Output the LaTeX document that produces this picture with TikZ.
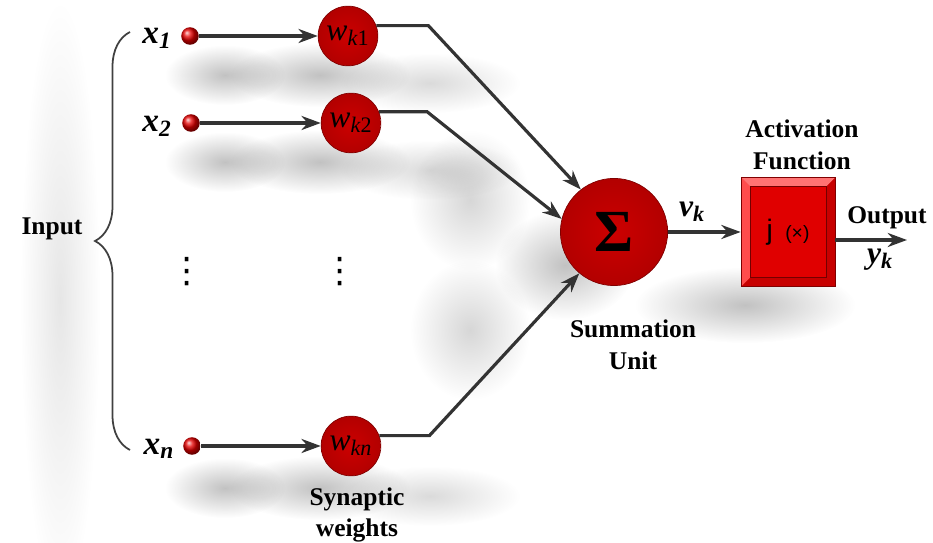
\documentclass[tikz,border=0pt]{standalone}
\usepackage{fontspec}
\setmainfont{Liberation Serif}
\newfontfamily\phifont{Liberation Sans}
\newfontfamily\symfont{DejaVu Sans}
\usetikzlibrary{arrows.meta, decorations.pathreplacing, fadings, calc}

\tikzfading[name=softblob, inner color=transparent!20, outer color=transparent!100]

\begin{document}
\begin{tikzpicture}[x=0.02cm, y=-0.02cm,
        every node/.style={inner sep=0pt},
        lbl/.style={font=\bfseries\fontsize{14.5}{18}\selectfont, align=center},
        var/.style={font=\bfseries\itshape\fontsize{19}{20}\selectfont},
        outvar/.style={font=\bfseries\itshape\fontsize{18}{18}\selectfont},
        dots/.style={font=\symfont\fontsize{20}{20}\selectfont},
        inball/.style={circle, minimum size=10pt, shading=ball, ball color=red!90!black},
        weight/.style={circle, minimum size=34pt, inner color=red!80!black, outer color=red!70!black,
            draw=red!50!black, thin, font=\itshape\fontsize{18}{18}\selectfont},
        sumnode/.style={circle, minimum size=61pt, inner color=red!80!black, outer color=red!70!black,
            draw=red!50!black, thin, font=\bfseries\fontsize{34}{34}\selectfont},
        actbox/.style={rectangle, minimum width=1.88cm, minimum height=2.18cm, fill=red!78!black,
            draw=red!50!black, thin,
            path picture={
                \fill[red!55] (path picture bounding box.north west) -- (path picture bounding box.north east)
                    -- ($(path picture bounding box.north east)+(-9,9)$) -- ($(path picture bounding box.north west)+(9,9)$) -- cycle;
                \fill[red!70] (path picture bounding box.north west) -- ($(path picture bounding box.north west)+(9,9)$)
                    -- ($(path picture bounding box.south west)+(9,-9)$) -- (path picture bounding box.south west) -- cycle;
                \fill[red!88!black] ($(path picture bounding box.south west)+(9,-9)$) rectangle ($(path picture bounding box.north east)+(-9,9)$);
                \draw[red!45!black, thin] ($(path picture bounding box.south west)+(9,-9)$) rectangle ($(path picture bounding box.north east)+(-9,9)$);
            }},
        link/.style={-{Stealth[length=11pt, width=8pt]}, line width=1.8pt, draw=black!80},
        haze/.style={black, opacity=.3, path fading=softblob}]
\useasboundingbox (0,0) rectangle (933,543);

% soft shadows under the rows and the units
\foreach \y in {75,162,488} {
    \fill[haze] (225,\y) ellipse (60 and 30);
    \fill[haze] (320,\y) ellipse (90 and 32);
    \fill[haze, opacity=.18] (430,\y+8) ellipse (90 and 30);
}
\fill[haze, opacity=.2] (470,200) ellipse (60 and 70);
\fill[haze, opacity=.2] (470,330) ellipse (60 and 70);
\fill[haze] (565,265) ellipse (70 and 55);
\fill[haze] (745,305) ellipse (110 and 38);
\fill[haze, opacity=.12] (60,300) ellipse (40 and 300);

% input side
\node[lbl] (input) at (52,229) {Input};
\coordinate (btop) at (130,32);
\coordinate (bbot) at (130,450);
\draw[decorate, decoration={brace, amplitude=0.7cm}, line width=1pt, black!75] (bbot) -- (btop);

\node[var] (x1) at (157,38) {x\textsubscript{1}};
\node[var] (x2) at (157,126) {x\textsubscript{2}};
\node[var] (xn) at (159,449) {x\textsubscript{n}};
\node[inball] (b1) at (190,36) {};
\node[inball] (b2) at (191,123) {};
\node[inball] (bn) at (192,446) {};
\node[dots] (d1) at (187,272) {⋮};

% synaptic weights
\node[weight] (w1) at (348,36) {w\textsubscript{k\textup{1}}};
\node[weight] (w2) at (351,123) {w\textsubscript{k\textup{2}}};
\node[weight] (wn) at (351,446) {w\textsubscript{kn}};
\node[dots] (d2) at (340,272) {⋮};
\node[lbl] (synlbl) at (357,515) {Synaptic\\weights};

\draw[link] (b1) -- (w1);
\draw[link] (b2) -- (w2);
\draw[link] (bn) -- (wn);

% summation and activation
\node[sumnode] (sum) at (614,232) {Σ};
\node[lbl] (sumlbl) at (633,345) {Summation\\Unit};
\node[actbox] (act) at (788,232) {\phifont\fontsize{16}{16}\selectfont j\, \fontsize{11}{11}\selectfont(×)};
\node[lbl] (actlbl) at (802,145) {Activation\\Function};

\draw[link] (w1.20) -- ++(52,0) -- (sum.128);
\draw[link] (w2.22) -- ++(48,0) -- (sum.166);
\draw[link] (wn.20) -- ++(50,0) -- (sum.230);

\draw[link] (sum) -- (act);
\node[outvar] (vk) at (692,212) {v\textsubscript{k}};

\coordinate (yend) at (907,240);
\draw[link] (act.east |- yend) -- (yend);
\node[lbl] (outlbl) at (887,218) {Output};
\node[outvar] (yk) at (880,260) {y\textsubscript{k}};
\end{tikzpicture}
\end{document}
